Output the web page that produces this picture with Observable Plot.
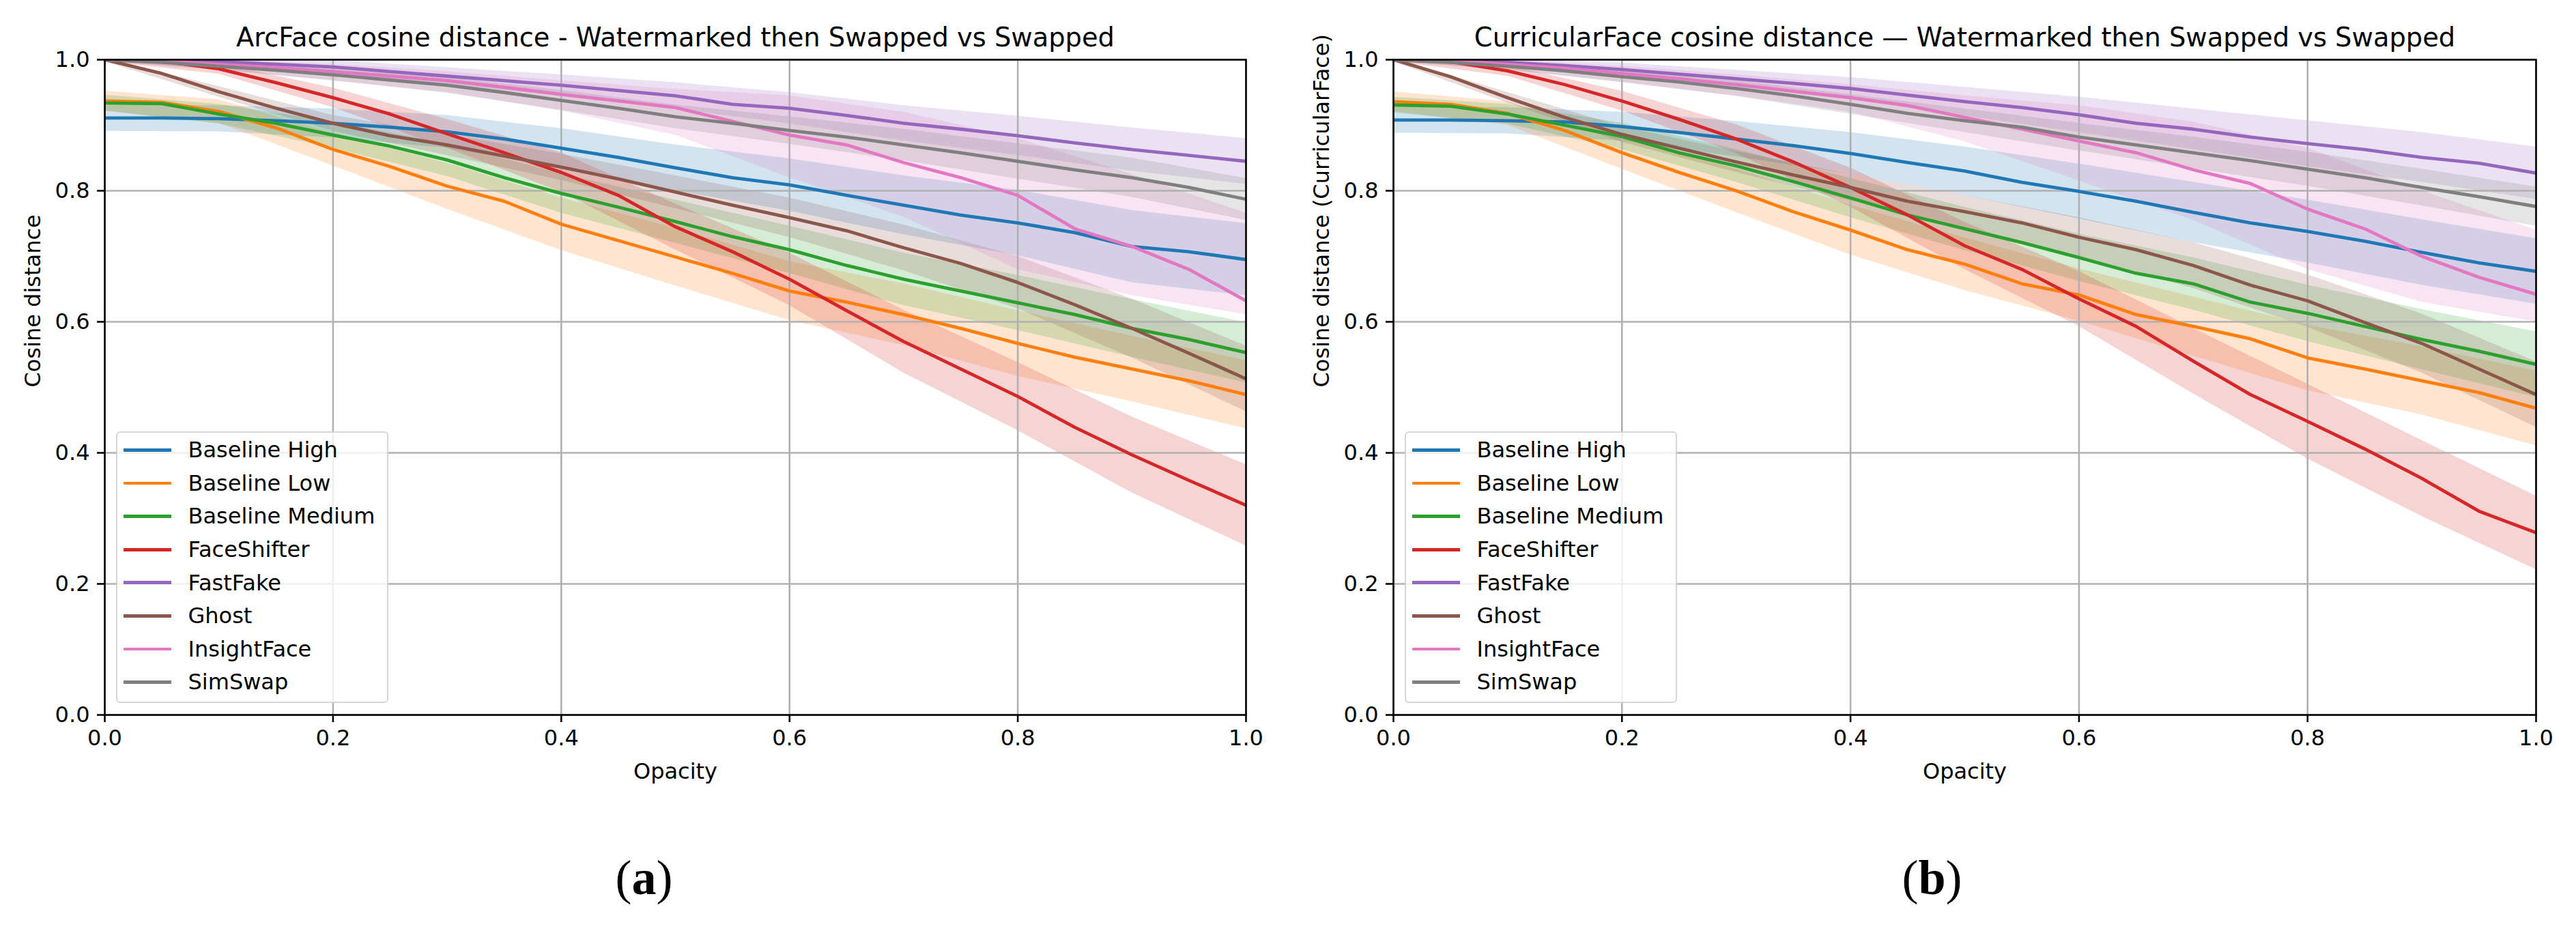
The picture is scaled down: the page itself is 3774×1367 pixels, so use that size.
<!DOCTYPE html>
<html>
<head>
<meta charset="utf-8">
<script src="https://cdn.jsdelivr.net/npm/d3@7"></script>
<script src="https://cdn.jsdelivr.net/npm/@observablehq/plot@0.6"></script>
<style>
  html, body { margin: 0; padding: 0; background: #fff; }
  #root { position: relative; width: 3774px; height: 1367px; overflow: hidden; font-family: "DejaVu Sans", sans-serif; }
  .panel { position: absolute; top: 0; width: 1887px; height: 1160px; }
  .legend { position: absolute; top: 632px; width: 399px; height: 398px; box-sizing: border-box;
            background: rgba(255,255,255,0.8); border: 2.5px solid rgba(204,204,204,0.8); border-radius: 6px;
            padding-top: 1.2px; font-family: "DejaVu Sans", sans-serif; font-size: 32px; color: #000; }
  .legend .row { display: flex; align-items: center; height: 48.6px; line-height: 48.6px; white-space: nowrap; }
  .legend .sw { width: 70px; height: 4.8px; margin-left: 8.5px; margin-right: 25px; flex: none; }
  .cap { position: absolute; top: 1250px; width: 1887px; text-align: center; font-family: "Liberation Serif", serif;
         font-size: 72px; line-height: 72px; color: #000; }
</style>
</head>
<body>
<div id="root"></div>
<script>
// ---------- data ----------
const opacity = [0, 0.05, 0.1, 0.15, 0.2, 0.25, 0.3, 0.35, 0.4, 0.45, 0.5, 0.55, 0.6, 0.65, 0.7, 0.75, 0.8, 0.85, 0.9, 0.95, 1.0];
const bandOpacity = [0, 0.1, 0.2, 0.3, 0.4, 0.5, 0.6, 0.7, 0.8, 0.9, 1.0];
const methods = ["Baseline High", "Baseline Low", "Baseline Medium", "FaceShifter", "FastFake", "Ghost", "InsightFace", "SimSwap"];
const colors = ["#1f77b4", "#ff7f0e", "#2ca02c", "#d62728", "#9467bd", "#8c564b", "#e377c2", "#7f7f7f"];
const xTicks = [0, 0.2, 0.4, 0.6, 0.8, 1.0];
const yTicks = [0, 0.2, 0.4, 0.6, 0.8, 1.0];

// (a) ArcFace: mean curves
const arcBaselineHigh   = [0.911,0.911,0.910,0.907,0.903,0.897,0.890,0.879,0.865,0.851,0.835,0.820,0.809,0.793,0.778,0.763,0.751,0.736,0.715,0.707,0.695];
const arcBaselineLow    = [0.937,0.935,0.921,0.896,0.863,0.837,0.807,0.784,0.749,0.724,0.699,0.674,0.647,0.630,0.611,0.590,0.567,0.546,0.528,0.510,0.489];
const arcBaselineMedium = [0.934,0.933,0.917,0.903,0.885,0.868,0.847,0.820,0.796,0.775,0.753,0.730,0.710,0.686,0.665,0.647,0.629,0.611,0.590,0.573,0.553];
const arcFaceShifter    = [1.000,0.998,0.986,0.965,0.942,0.917,0.887,0.858,0.828,0.793,0.745,0.707,0.665,0.617,0.570,0.528,0.486,0.439,0.397,0.358,0.320];
const arcFastFake       = [1.000,0.999,0.997,0.993,0.989,0.982,0.975,0.968,0.961,0.953,0.945,0.932,0.926,0.915,0.903,0.894,0.884,0.873,0.863,0.854,0.845];
const arcGhost          = [1.000,0.979,0.951,0.926,0.903,0.884,0.870,0.853,0.836,0.818,0.798,0.778,0.759,0.739,0.713,0.689,0.660,0.626,0.590,0.552,0.513];
const arcInsightFace    = [1.000,0.998,0.993,0.988,0.982,0.975,0.968,0.958,0.947,0.937,0.927,0.906,0.885,0.870,0.843,0.820,0.793,0.742,0.715,0.680,0.632];
const arcSimSwap        = [1.000,0.996,0.990,0.984,0.977,0.969,0.961,0.950,0.938,0.926,0.913,0.903,0.892,0.882,0.870,0.858,0.845,0.832,0.820,0.805,0.787];
// (a) ArcFace: shaded band, lower / upper edges at bandOpacity
const arcBaselineHighLo   = [0.891,0.890,0.881,0.865,0.835,0.800,0.769,0.733,0.701,0.660,0.640];
const arcBaselineHighHi   = [0.931,0.930,0.925,0.915,0.895,0.870,0.849,0.823,0.801,0.770,0.750];
const arcBaselineLowLo    = [0.922,0.903,0.838,0.772,0.709,0.655,0.602,0.564,0.517,0.478,0.437];
const arcBaselineLowHi    = [0.952,0.939,0.888,0.842,0.789,0.743,0.692,0.658,0.617,0.578,0.541];
const arcBaselineMediumLo = [0.922,0.902,0.865,0.822,0.766,0.720,0.674,0.625,0.587,0.546,0.507];
const arcBaselineMediumHi = [0.946,0.932,0.905,0.872,0.826,0.786,0.746,0.705,0.671,0.634,0.599];
const arcFaceShifterLo    = [0.997,0.978,0.927,0.865,0.798,0.710,0.625,0.522,0.434,0.339,0.258];
const arcFaceShifterHi    = [1.003,0.994,0.957,0.909,0.858,0.780,0.705,0.618,0.538,0.455,0.382];
const arcFastFakeLo       = [0.997,0.991,0.979,0.962,0.945,0.925,0.902,0.876,0.854,0.830,0.810];
const arcFastFakeHi       = [1.003,1.003,0.999,0.988,0.977,0.965,0.950,0.930,0.914,0.896,0.880];
const arcGhostLo          = [0.997,0.943,0.891,0.854,0.816,0.773,0.729,0.678,0.620,0.545,0.463];
const arcGhostHi          = [1.003,0.959,0.915,0.886,0.856,0.823,0.789,0.748,0.700,0.635,0.563];
const arcInsightFaceLo    = [0.996,0.985,0.968,0.950,0.922,0.885,0.820,0.760,0.680,0.640,0.611];
const arcInsightFaceHi    = [1.004,1.000,0.993,0.982,0.968,0.955,0.945,0.920,0.880,0.825,0.766];
const arcSimSwapLo        = [0.997,0.984,0.968,0.949,0.923,0.895,0.871,0.846,0.818,0.790,0.755];
const arcSimSwapHi        = [1.003,0.996,0.986,0.973,0.953,0.931,0.913,0.894,0.872,0.850,0.819];

// (b) CurricularFace: mean curves
const curBaselineHigh   = [0.908,0.908,0.907,0.905,0.898,0.889,0.879,0.869,0.857,0.843,0.830,0.813,0.799,0.784,0.767,0.751,0.738,0.723,0.706,0.690,0.677];
const curBaselineLow    = [0.936,0.932,0.918,0.892,0.858,0.828,0.800,0.768,0.740,0.710,0.688,0.658,0.641,0.611,0.593,0.574,0.545,0.528,0.510,0.492,0.468];
const curBaselineMedium = [0.931,0.929,0.917,0.900,0.883,0.858,0.838,0.814,0.789,0.763,0.742,0.721,0.698,0.674,0.658,0.630,0.613,0.593,0.573,0.555,0.535];
const curFaceShifter    = [1.000,0.997,0.983,0.962,0.937,0.909,0.879,0.844,0.805,0.763,0.716,0.680,0.635,0.593,0.540,0.489,0.448,0.406,0.361,0.311,0.278];
const curFastFake       = [1.000,0.999,0.996,0.991,0.985,0.978,0.971,0.964,0.956,0.946,0.936,0.927,0.916,0.903,0.894,0.882,0.872,0.863,0.851,0.842,0.827];
const curGhost          = [1.000,0.974,0.942,0.912,0.886,0.865,0.844,0.824,0.805,0.784,0.768,0.751,0.729,0.710,0.686,0.656,0.632,0.599,0.567,0.528,0.489];
const curInsightFace    = [1.000,0.998,0.993,0.987,0.979,0.971,0.962,0.952,0.942,0.930,0.912,0.894,0.876,0.858,0.832,0.811,0.772,0.742,0.700,0.668,0.642];
const curSimSwap        = [1.000,0.996,0.990,0.983,0.974,0.966,0.956,0.945,0.932,0.918,0.907,0.897,0.882,0.870,0.858,0.846,0.833,0.820,0.805,0.791,0.776];
// (b) CurricularFace: shaded band, lower / upper edges at bandOpacity
const curBaselineHighLo   = [0.888,0.887,0.876,0.852,0.825,0.793,0.757,0.721,0.690,0.656,0.627];
const curBaselineHighHi   = [0.928,0.927,0.920,0.906,0.889,0.867,0.841,0.813,0.786,0.756,0.727];
const curBaselineLowLo    = [0.921,0.900,0.833,0.767,0.702,0.648,0.601,0.548,0.495,0.458,0.411];
const curBaselineLowHi    = [0.951,0.936,0.883,0.833,0.778,0.728,0.681,0.638,0.595,0.562,0.525];
const curBaselineMediumLo = [0.919,0.902,0.863,0.813,0.759,0.709,0.662,0.618,0.570,0.527,0.485];
const curBaselineMediumHi = [0.943,0.932,0.903,0.863,0.819,0.775,0.734,0.698,0.656,0.619,0.585];
const curFaceShifterLo    = [0.997,0.975,0.922,0.857,0.775,0.680,0.593,0.490,0.391,0.303,0.222];
const curFaceShifterHi    = [1.003,0.991,0.952,0.901,0.835,0.752,0.677,0.590,0.505,0.419,0.334];
const curFastFakeLo       = [0.997,0.990,0.975,0.958,0.939,0.914,0.889,0.863,0.837,0.813,0.787];
const curFastFakeHi       = [1.003,1.002,0.995,0.984,0.973,0.958,0.943,0.925,0.907,0.889,0.867];
const curGhostLo          = [0.997,0.934,0.874,0.828,0.785,0.743,0.699,0.651,0.592,0.522,0.439];
const curGhostHi          = [1.003,0.950,0.898,0.860,0.825,0.793,0.759,0.721,0.672,0.612,0.539];
const curInsightFaceLo    = [0.996,0.985,0.966,0.945,0.920,0.875,0.815,0.755,0.680,0.630,0.600];
const curInsightFaceHi    = [1.004,1.000,0.990,0.977,0.962,0.945,0.930,0.905,0.865,0.800,0.740];
const curSimSwapLo        = [0.997,0.984,0.965,0.944,0.917,0.889,0.861,0.834,0.807,0.777,0.746];
const curSimSwapHi        = [1.003,0.996,0.983,0.968,0.947,0.925,0.903,0.882,0.859,0.833,0.806];

// ---------- build tables ----------
function buildTables(means, los, his) {
  const lines = [], bands = [];
  methods.forEach((m, k) => {
    means[k].forEach((v, i) => lines.push({method: m, x: opacity[i], y: v}));
    los[k].forEach((v, i) => bands.push({method: m, x: bandOpacity[i], lo: v, hi: his[k][i]}));
  });
  return {lines, bands};
}

const arcT = buildTables(
  [arcBaselineHigh, arcBaselineLow, arcBaselineMedium, arcFaceShifter, arcFastFake, arcGhost, arcInsightFace, arcSimSwap],
  [arcBaselineHighLo, arcBaselineLowLo, arcBaselineMediumLo, arcFaceShifterLo, arcFastFakeLo, arcGhostLo, arcInsightFaceLo, arcSimSwapLo],
  [arcBaselineHighHi, arcBaselineLowHi, arcBaselineMediumHi, arcFaceShifterHi, arcFastFakeHi, arcGhostHi, arcInsightFaceHi, arcSimSwapHi]
);
const curT = buildTables(
  [curBaselineHigh, curBaselineLow, curBaselineMedium, curFaceShifter, curFastFake, curGhost, curInsightFace, curSimSwap],
  [curBaselineHighLo, curBaselineLowLo, curBaselineMediumLo, curFaceShifterLo, curFastFakeLo, curGhostLo, curInsightFaceLo, curSimSwapLo],
  [curBaselineHighHi, curBaselineLowHi, curBaselineMediumHi, curFaceShifterHi, curFastFakeHi, curGhostHi, curInsightFaceHi, curSimSwapHi]
);

// ---------- panels ----------
function panel(title, ylabel, t, marginLeft, marginRight) {
  const fmt = d => d.toFixed(1);
  return Plot.plot({
    width: 1887, height: 1160,
    marginLeft, marginRight, marginTop: 87, marginBottom: 113,
    style: {fontFamily: "'DejaVu Sans', sans-serif", fontSize: "32px", color: "#000", background: "transparent", overflow: "visible"},
    x: {domain: [0, 1], label: null},
    y: {domain: [0, 1], label: null},
    color: {domain: methods, range: colors},
    marks: [
      Plot.areaY(t.bands, {x: "x", y1: "lo", y2: "hi", z: "method", fill: "method", fillOpacity: 0.2, clip: true}),
      Plot.gridX(xTicks, {stroke: "#b0b0b0", strokeOpacity: 1, strokeWidth: 2.56}),
      Plot.gridY(yTicks, {stroke: "#b0b0b0", strokeOpacity: 1, strokeWidth: 2.56}),
      Plot.lineY(t.lines, {x: "x", y: "y", z: "method", stroke: "method", strokeWidth: 4.8, clip: true}),
      Plot.frame({stroke: "#000", strokeWidth: 2.56}),
      Plot.axisX(xTicks, {tickFormat: fmt, tickSize: 11, tickPadding: 11, strokeWidth: 2.56, fontSize: 32, label: null}),
      Plot.axisY(yTicks, {tickFormat: fmt, tickSize: 11, tickPadding: 11, strokeWidth: 2.56, fontSize: 32, label: null}),
      Plot.text([title], {text: d => d, frameAnchor: "top", lineAnchor: "bottom", dy: -20, fontSize: 38.4}),
      Plot.text(["Opacity"], {text: d => d, frameAnchor: "bottom", lineAnchor: "bottom", dy: 93, fontSize: 32}),
      Plot.text([ylabel], {text: d => d, frameAnchor: "left", rotate: -90, dx: -105, fontSize: 32})
    ]
  });
}

const root = document.getElementById("root");

function addPanel(left, svg, legendLeft, capLetter) {
  const holder = document.createElement("div");
  holder.className = "panel";
  holder.style.left = left + "px";
  holder.appendChild(svg);
  root.appendChild(holder);

  const lg = document.createElement("div");
  lg.className = "legend";
  lg.style.left = legendLeft + "px";
  methods.forEach((m, k) => {
    const row = document.createElement("div");
    row.className = "row";
    const sw = document.createElement("div");
    sw.className = "sw";
    sw.style.background = colors[k];
    const lab = document.createElement("span");
    lab.textContent = m;
    row.appendChild(sw);
    row.appendChild(lab);
    lg.appendChild(row);
  });
  root.appendChild(lg);

  const cap = document.createElement("div");
  cap.className = "cap";
  cap.style.left = left + "px";
  cap.innerHTML = "(<b>" + capLetter + "</b>)";
  root.appendChild(cap);
}

addPanel(0, panel("ArcFace cosine distance - Watermarked then Swapped vs Swapped", "Cosine distance", arcT, 153, 62), 170, "a");
addPanel(1887, panel("CurricularFace cosine distance \u2014 Watermarked then Swapped vs Swapped", "Cosine distance (CurricularFace)", curT, 154, 59), 2058, "b");
</script>
</body>
</html>
